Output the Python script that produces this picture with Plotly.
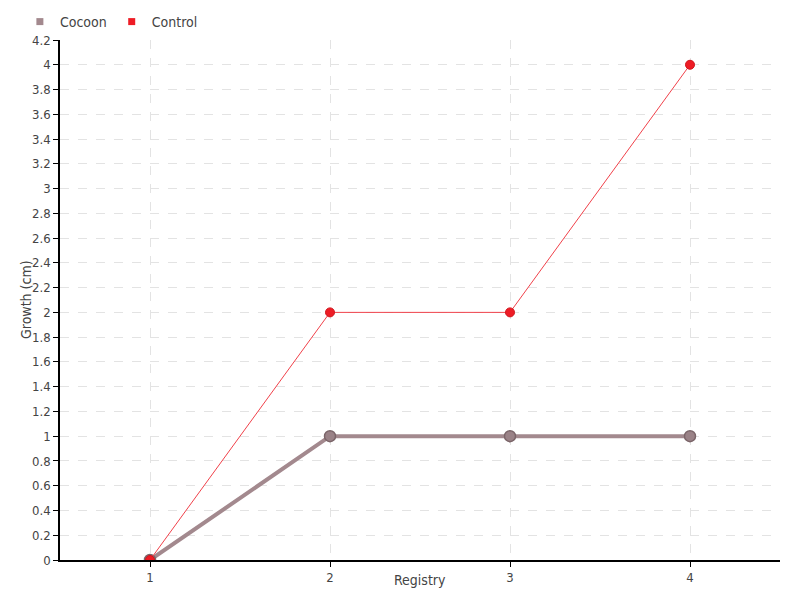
import plotly.graph_objects as go

registry = [1, 2, 3, 4]
cocoon = [0, 1, 1, 1]
control = [0, 2, 2, 4]
y_ticks = [round(i * 0.2, 1) for i in range(22)]
y_tick_labels = [("%g" % v) for v in y_ticks]

FONT = "DejaVu Sans Condensed, DejaVu Sans, sans-serif"
COCOON = "#a3898e"
CONTROL = "#ee1c25"

# page has an 8px body margin; figure is sized so it fills the 800x600 window
W, H = 792, 592

fig = go.Figure()
fig.add_trace(go.Scatter(
    x=registry, y=cocoon, mode="lines+markers", name="Cocoon", showlegend=False,
    line=dict(color=COCOON, width=4),
    marker=dict(size=11, color="#9a8287", line=dict(color="#7b6569", width=1.5)),
))
fig.add_trace(go.Scatter(
    x=registry, y=control, mode="lines+markers", name="Control", showlegend=False,
    line=dict(color="#f0414a", width=1),
    marker=dict(size=9, color=CONTROL, line=dict(color="#d0141c", width=1)),
))
# legend entries with square symbols
fig.add_trace(go.Scatter(x=[None], y=[None], mode="markers", name="Cocoon",
                         marker=dict(symbol="square", size=7, color=COCOON)))
fig.add_trace(go.Scatter(x=[None], y=[None], mode="markers", name="Control",
                         marker=dict(symbol="square", size=7, color=CONTROL)))

fig.update_layout(
    width=W, height=H,
    margin=dict(l=52, r=20, t=32, b=40, autoexpand=False),
    paper_bgcolor="white", plot_bgcolor="white",
    font=dict(family=FONT, size=13, color="#444"),
    legend=dict(orientation="h", x=0.015, xanchor="left", y=1 - 14 / H, yanchor="middle",
                xref="container", yref="container",
                font=dict(size=14), itemwidth=30, tracegroupgap=0,
                bgcolor="rgba(0,0,0,0)"),
    showlegend=True,
    annotations=[
        dict(text="Registry", xref="paper", yref="paper", x=0.5, y=0,
             yshift=-20, showarrow=False, yanchor="middle", font=dict(size=14, color="#444")),
        dict(text="Growth (cm)", xref="paper", yref="paper", x=0, y=0.5,
             xshift=-34, showarrow=False, textangle=-90, xanchor="center",
             font=dict(size=14, color="#444")),
    ],
)
fig.update_xaxes(
    range=[0.5, 4.5], tickvals=registry, ticktext=[str(v) for v in registry],
    showline=True, linecolor="black", linewidth=1.5,
    ticks="outside", ticklen=5, tickcolor="black",
    showgrid=True, gridcolor="#e3e3e3", griddash="dash", gridwidth=1,
    zeroline=False, automargin=False,
)
fig.update_yaxes(
    range=[0, 4.2], tickvals=y_ticks, ticktext=y_tick_labels,
    showline=True, linecolor="black", linewidth=1.5,
    ticks="outside", ticklen=5, tickcolor="black",
    showgrid=True, gridcolor="#e3e3e3", griddash="dash", gridwidth=1,
    zeroline=False, automargin=False,
)

fig.write_html("out.html")
